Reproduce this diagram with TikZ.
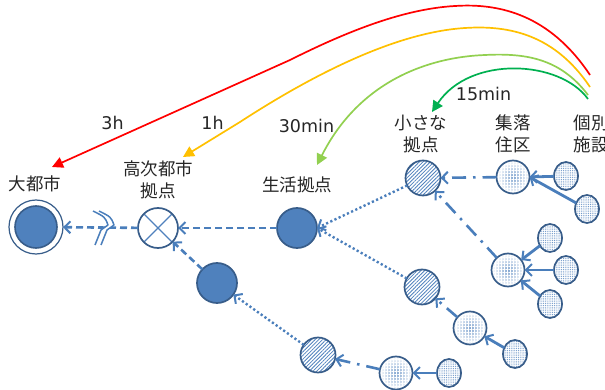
\documentclass[tikz,border=0pt]{standalone}
\usepackage{fontspec}
\setmainfont{DejaVu Sans}
\newfontfamily\jp{Noto Sans CJK JP}
\usetikzlibrary{arrows.meta,patterns.meta,shapes.geometric}
\definecolor{fillblue}{HTML}{4F81BD}
\definecolor{edgeblue}{HTML}{385D8A}
\definecolor{connblue}{HTML}{4A7EBB}
\definecolor{arrred}{HTML}{FF0000}
\definecolor{arrorange}{HTML}{FFC000}
\definecolor{arrlgreen}{HTML}{92D050}
\definecolor{arrgreen}{HTML}{00B050}
\begin{document}
\begin{tikzpicture}[x=1pt,y=-1pt,
  circ/.style={circle,draw=edgeblue,line width=1.7pt,inner sep=0pt,outer sep=0pt},
  citynode/.style={circ,line width=1.2pt,fill=white,minimum size=54pt,
    path picture={\fill[fillblue,draw=edgeblue,line width=1.6pt] (path picture bounding box.center) circle (21pt);}},
  xnode/.style={circ,fill=white,minimum size=40pt,
    path picture={\draw[fillblue,line width=1.2pt] (path picture bounding box.north west) -- (path picture bounding box.south east)
      (path picture bounding box.north east) -- (path picture bounding box.south west);}},
  solidnode/.style={circ,fill=fillblue,minimum size=40pt},
  hatchnode/.style={circ,minimum size=35pt,preaction={fill=white},
    pattern={Lines[angle=45,distance=2.6pt,line width=0.8pt]},pattern color=fillblue},
  gridnode/.style={circ,minimum size=33pt,
    preaction={shade,shading=radial,inner color=fillblue!70,outer color=white},
    pattern={Hatch[angle=0,distance=3pt,line width=1pt]},pattern color=white},
  dotnode/.style={ellipse,draw=edgeblue,line width=1.7pt,inner sep=0pt,outer sep=0pt,
    minimum width=24pt,minimum height=28pt,preaction={fill=white},
    pattern={Dots[distance=1.8pt,radius=0.5pt]},pattern color=fillblue!90},
  jplbl/.style={font=\jp\fontsize{17.5}{22}\selectfont,inner sep=0pt,text=black!85,align=center},
  numlbl/.style={font=\fontsize{17.5}{20}\selectfont,inner sep=0pt,text=black!85,anchor=base},
  tip/.style={-{Straight Barb[length=6pt,width=12pt,line width=2pt]}},
  dashconn/.style={tip,draw=connblue,line width=2.6pt,dash pattern=on 7pt off 4pt},
  dotconn/.style={tip,draw=connblue,line width=2.4pt,dash pattern=on 2.2pt off 2.4pt},
  dashdotconn/.style={tip,draw=connblue,line width=2.6pt,dash pattern=on 14pt off 7pt on 2.5pt off 7pt},
  solidconn/.style={tip,draw=connblue,line width=2.8pt},
  timearrow/.style={-{Triangle[length=11pt,width=11pt]},line width=1.7pt}
]
\useasboundingbox (0,0) rectangle (605,390);
\clip (0,0) rectangle (605,390);

% main nodes
\node[citynode] (city) at (36,227) {};
\node[xnode] (koji) at (158,228) {};
\node[solidnode] (seik) at (297,228) {};
\node[solidnode] (fill2) at (217,283) {};
\node[hatchnode] (h1) at (423,178) {};
\node[hatchnode] (h2) at (422,287) {};
\node[hatchnode] (h3) at (318,355) {};
\node[gridnode] (g1) at (513,177) {};
\node[gridnode] (g4) at (508,270) {};
\node[gridnode] (g2) at (470,328) {};
\node[gridnode] (g3) at (396,373) {};
\node[dotnode] (d1) at (566,176) {};
\node[dotnode] (d2) at (587,209) {};
\node[dotnode] (d3) at (550,238) {};
\node[dotnode] (d4) at (566,270) {};
\node[dotnode] (d5) at (550,304) {};
\node[dotnode] (d6) at (515,354) {};
\node[dotnode] (d7) at (449,373) {};

% connectors
\draw[dashconn] (koji) -- (city);
\draw[dashconn] (seik) -- (koji);
\draw[dashconn] (fill2) -- (koji);
\draw[dotconn] (h1) -- (seik.east);
\draw[dotconn] (h2) -- (seik.east);
\draw[dotconn] (h3) -- (fill2);
\draw[dashdotconn] (g1) -- (h1);
\draw[dashdotconn] (g4) -- (h1);
\draw[dashdotconn] (g2) -- (h2);
\draw[dashdotconn] (g3) -- (h3);
\draw[solidconn] (d1) -- (g1.east);
\draw[solidconn] (d2) -- (g1.east);
\draw[solidconn] (d3) -- (g4);
\draw[solidconn] (d4) -- (g4);
\draw[solidconn] (d5) -- (g4);
\draw[solidconn] (d6) -- (g2);
\draw[solidconn] (d7) -- (g3);

% break mark
\fill[white] (93,211) -- (99,211) .. controls (111,217) .. (114,225) -- (107,230) -- (101,245) -- (95,245) -- (101,230) -- (108,225) .. controls (105,217) .. (93,211) -- cycle;
\draw[connblue,line width=1.5pt,line join=round] (93,211) .. controls (105,217) .. (108,225) -- (101,230) -- (95,245);
\draw[connblue,line width=1.5pt,line join=round] (99,211) .. controls (111,217) .. (114,225) -- (107,230) -- (101,245);

% labels
\node[jplbl] (lcity) at (35,184) {大都市};
\node[jplbl] (lkoji) at (158,180) {高次都市\\拠点};
\node[jplbl] (lseik) at (297,185) {生活拠点};
\node[jplbl] (lsmall) at (421,134) {小さな\\拠点};
\node[jplbl] (lshu) at (513,134) {集落\\住区};
\node[jplbl] (lko) at (591,134) {個別\\施設};
\node[numlbl] (t3h) at (112.5,130) {3h};
\node[numlbl] (t1h) at (212.5,130) {1h};
\node[numlbl] (t30) at (306.5,133) {30min};
\node[numlbl] (t15) at (483.5,101) {15min};

% time arrows
\coordinate (rs) at (590,75);
\coordinate (re) at (52,167);
\coordinate (os) at (590,87);
\coordinate (oe) at (183,157);
\coordinate (ls) at (588,95);
\coordinate (le) at (317,165);
\coordinate (gs) at (588,99);
\coordinate (ge) at (432,112);
\draw[timearrow,arrred] (rs) .. controls (550,15) and (500,3) .. (455,6)
   .. controls (400,9) and (340,35) .. (290,60) -- (re);
\draw[timearrow,arrorange] (os) .. controls (555,35) and (510,25) .. (465,28)
   .. controls (400,32) and (320,70) .. (240,122) -- (oe);
\draw[timearrow,arrlgreen] (ls) .. controls (560,58) and (525,53) .. (485,55)
   .. controls (430,57) and (360,80) .. (le);
\draw[timearrow,arrgreen] (gs) .. controls (560,60) and (470,55) .. (ge);
\end{tikzpicture}
\end{document}
